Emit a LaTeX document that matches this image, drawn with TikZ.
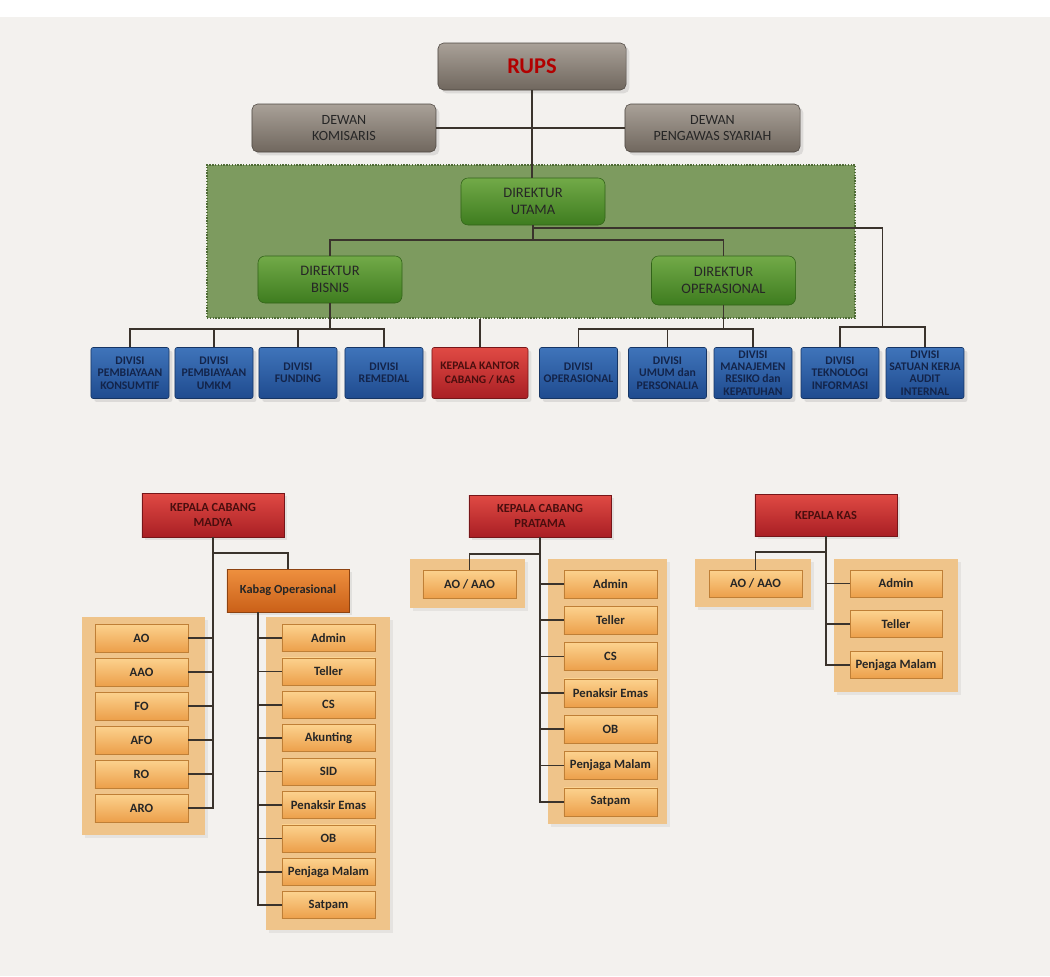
\documentclass[tikz,border=0pt]{standalone}
\usepackage{fontspec}
\setmainfont{Carlito}
\usetikzlibrary{shadows}
\definecolor{paper}{HTML}{F3F1EE}
\definecolor{wirec}{HTML}{3A332C}
\definecolor{grayt}{HTML}{A9A198}
\definecolor{grayb}{HTML}{70675E}
\definecolor{areaf}{HTML}{7D9B5F}
\definecolor{areab}{HTML}{4E6B35}
\definecolor{dirt}{HTML}{72AA48}
\definecolor{dirb}{HTML}{3E7C1F}
\definecolor{bluet}{HTML}{3F74BA}
\definecolor{blueb}{HTML}{1F4B8F}
\definecolor{bluetx}{HTML}{13244A}
\definecolor{redt}{HTML}{E04A44}
\definecolor{redb}{HTML}{A91F24}
\definecolor{redtx}{HTML}{4A0E0E}
\definecolor{orgt}{HTML}{EE903F}
\definecolor{orgb}{HTML}{CA6018}
\definecolor{panelc}{HTML}{EFC48A}
\definecolor{itemt}{HTML}{FCD28E}
\definecolor{itemb}{HTML}{EC9F4A}
\definecolor{itemd}{HTML}{BF7F36}
\tikzset{
  topbox/.style={draw=grayb!70!black,rounded corners=4pt,top color=grayt,bottom color=grayb,align=center,text=black!85,inner sep=0pt,font=\fontsize{10}{11.5}\selectfont,drop shadow={opacity=0.2}},
  dirbox/.style={draw=dirb!80!black,rounded corners=5pt,top color=dirt,bottom color=dirb,align=center,text=black!85,inner sep=0pt,font=\fontsize{10.3}{12}\selectfont,minimum width=3.6cm,minimum height=1.175cm},
  divbox/.style={draw=blueb!70!black,rounded corners=1.5pt,top color=bluet,bottom color=blueb,align=center,text=bluetx,inner sep=0pt,font=\bfseries\fontsize{8.3}{8.7}\selectfont,minimum width=1.95cm,minimum height=1.275cm,drop shadow={opacity=0.2}},
  headbox/.style={draw=redb!70!black,top color=redt,bottom color=redb,align=center,text=redtx,inner sep=0pt,font=\bfseries\fontsize{8.8}{10.5}\selectfont,minimum width=3.55cm,minimum height=1.05cm,drop shadow={opacity=0.15}},
  panel/.style={fill=panelc,drop shadow={opacity=0.12}},
  item/.style={draw=itemd,top color=itemt,bottom color=itemb,text=black!85,inner sep=0pt,font=\bfseries\fontsize{9}{10}\selectfont,minimum width=2.325cm,minimum height=0.7cm},
  wire/.style={draw=wirec,line width=1.2pt}
}
\begin{document}
\begin{tikzpicture}[x=0.025cm,y=-0.025cm]
\useasboundingbox (0,0) rectangle (1050,976);
\fill[white] (0,0) rectangle (1050,976);
\fill[paper] (0,17) rectangle (1050,976);
% board area
\node[draw=areab,densely dotted,line width=1pt,fill=areaf,minimum width=16.2cm,minimum height=3.825cm] (direksi) at (531,241.5) {};
% top level
\node[topbox,minimum width=4.7cm,minimum height=1.175cm] (rups) at (532,66.5) {\textcolor{red!70!black}{\bfseries\fontsize{16}{18}\selectfont RUPS}};
\node[topbox,minimum width=4.6cm,minimum height=1.2cm] (komisaris) at (344,128) {DEWAN\\KOMISARIS};
\node[topbox,minimum width=4.375cm,minimum height=1.2cm] (pengawas) at (712.5,128) {DEWAN\\PENGAWAS SYARIAH};
\node[dirbox] (utama) at (533,201.5) {DIREKTUR\\UTAMA};
\node[dirbox] (bisnis) at (330,279.5) {DIREKTUR\\BISNIS};
\node[dirbox,minimum height=1.225cm] (opr) at (723.5,280.5) {DIREKTUR\\OPERASIONAL};
% divisions
\foreach \x/\nm/\txt in {130/konsumtif/{DIVISI\\PEMBIAYAAN\\KONSUMTIF},214/umkm/{DIVISI\\PEMBIAYAAN\\UMKM},298/funding/{DIVISI\\FUNDING},384/remedial/{DIVISI\\REMEDIAL},578.5/divops/{DIVISI\\OPERASIONAL},667.5/umum/{DIVISI\\UMUM dan\\PERSONALIA},753/resiko/{DIVISI\\MANAJEMEN\\RESIKO dan\\KEPATUHAN},840/tik/{DIVISI\\TEKNOLOGI\\INFORMASI},925/audit/{DIVISI\\SATUAN KERJA\\AUDIT\\INTERNAL}}
  \node[divbox] (\nm) at (\x,373) {\txt};
\node[headbox,rounded corners=1.5pt,minimum width=2.4cm,minimum height=1.275cm,font=\bfseries\fontsize{8.2}{10}\selectfont] (kantor) at (480,373) {KEPALA KANTOR\\CABANG / KAS};
% top connectors
\draw[wire] (rups.south) -- (rups.south |- utama.north);
\draw[wire] (komisaris) -- (pengawas);
\draw[wire] (utama.south) -- ++(0,15) coordinate (uj) -| (bisnis.north);
\draw[wire] (uj) -| (opr.north);
\draw[wire] (konsumtif.north) -- ++(0,-18) coordinate (bj) -| (remedial.north);
\draw[wire] (bisnis.south) -- (bisnis.south |- bj);
\draw[wire] (umkm.north) -- (umkm.north |- bj);
\draw[wire] (funding.north) -- (funding.north |- bj);
\draw[wire] (divops.north) -- ++(0,-18) coordinate (oj) -| (resiko.north);
\draw[wire] (opr.south) -- (opr.south |- oj);
\draw[wire] (umum.north) -- (umum.north |- oj);
\draw[wire] (tik.north) -- ++(0,-20) -- coordinate (tj) ++(85,0) -- (audit.north);
\draw[wire] (utama.south) -- ++(0,3) -| (tj);
\draw[wire] (kantor.north) -- (kantor.north |- direksi.south);
% Kepala Cabang Madya
\fill[panel] (82,617) rectangle (205,835);
\fill[panel] (266,617) rectangle (390,930);
\node[headbox,minimum height=1.1cm] (madya) at (213,515) {KEPALA CABANG\\MADYA};
\node[headbox,draw=orgb!70!black,top color=orgt,bottom color=orgb,text=black!85,minimum width=3.05cm,minimum height=1.075cm,font=\bfseries\fontsize{8.8}{10}\selectfont] (kabag) at (288,590.5) {Kabag Operasional};
\foreach \t [count=\i] in {AO,AAO,FO,AFO,RO,ARO}
  \node[item] (md\i) at (141.5,{638+34*(\i-1)}) {\t};
\foreach \t [count=\i] in {Admin,Teller,CS,Akunting,SID,Penaksir Emas,OB,Penjaga Malam,Satpam}
  \node[item,minimum height=0.675cm] (kb\i) at (328.5,{638+33.4*(\i-1)}) {\t};
\draw[wire] (madya.south) |- (md6.east);
\foreach \i in {1,...,5} \draw[wire] (md\i.east) -- (md\i.east -| madya.south);
\draw[wire] (madya.south) ++(0,16) -| (kabag.north);
\draw[wire] ([xshift=-0.75cm]kabag.south) |- (kb9.west);
\foreach \i in {1,...,8} \draw[wire] (kb\i.west) -- ++(-24,0);
% Kepala Cabang Pratama
\fill[panel] (410,559) rectangle (525,608);
\fill[panel] (548,559) rectangle (667,824);
\node[headbox] (pratama) at (540,516) {KEPALA CABANG\\PRATAMA};
\node[item] (pao) at (469.5,584) {AO / AAO};
\foreach \t [count=\i] in {Admin,Teller,CS,Penaksir Emas,OB,Penjaga Malam,Satpam}
  \node[item] (pr\i) at (610.5,{584+36.3*(\i-1)}) {\t};
\draw[wire] (pratama.south) ++(0,17) -| (pao.north);
\draw[wire] (pratama.south) |- (pr7.west);
\foreach \i in {1,...,6} \draw[wire] (pr\i.west) -- (pr\i.west -| pratama.south);
% Kepala Kas
\fill[panel] (695,559) rectangle (811,607);
\fill[panel] (834,559) rectangle (958,692);
\node[headbox] (kas) at (826,515) {KEPALA KAS};
\node[item,minimum height=0.675cm] (kao) at (755.5,583.5) {AO / AAO};
\foreach \t [count=\i] in {Admin,Teller,Penjaga Malam}
  \node[item,minimum width=2.3cm,minimum height=0.675cm] (ks\i) at (896,{583.5+40.75*(\i-1)}) {\t};
\draw[wire] (kas.south) ++(0,16) -| (kao.north);
\draw[wire] (kas.south) |- (ks3.west);
\foreach \i in {1,2} \draw[wire] (ks\i.west) -- (ks\i.west -| kas.south);
\end{tikzpicture}
\end{document}
